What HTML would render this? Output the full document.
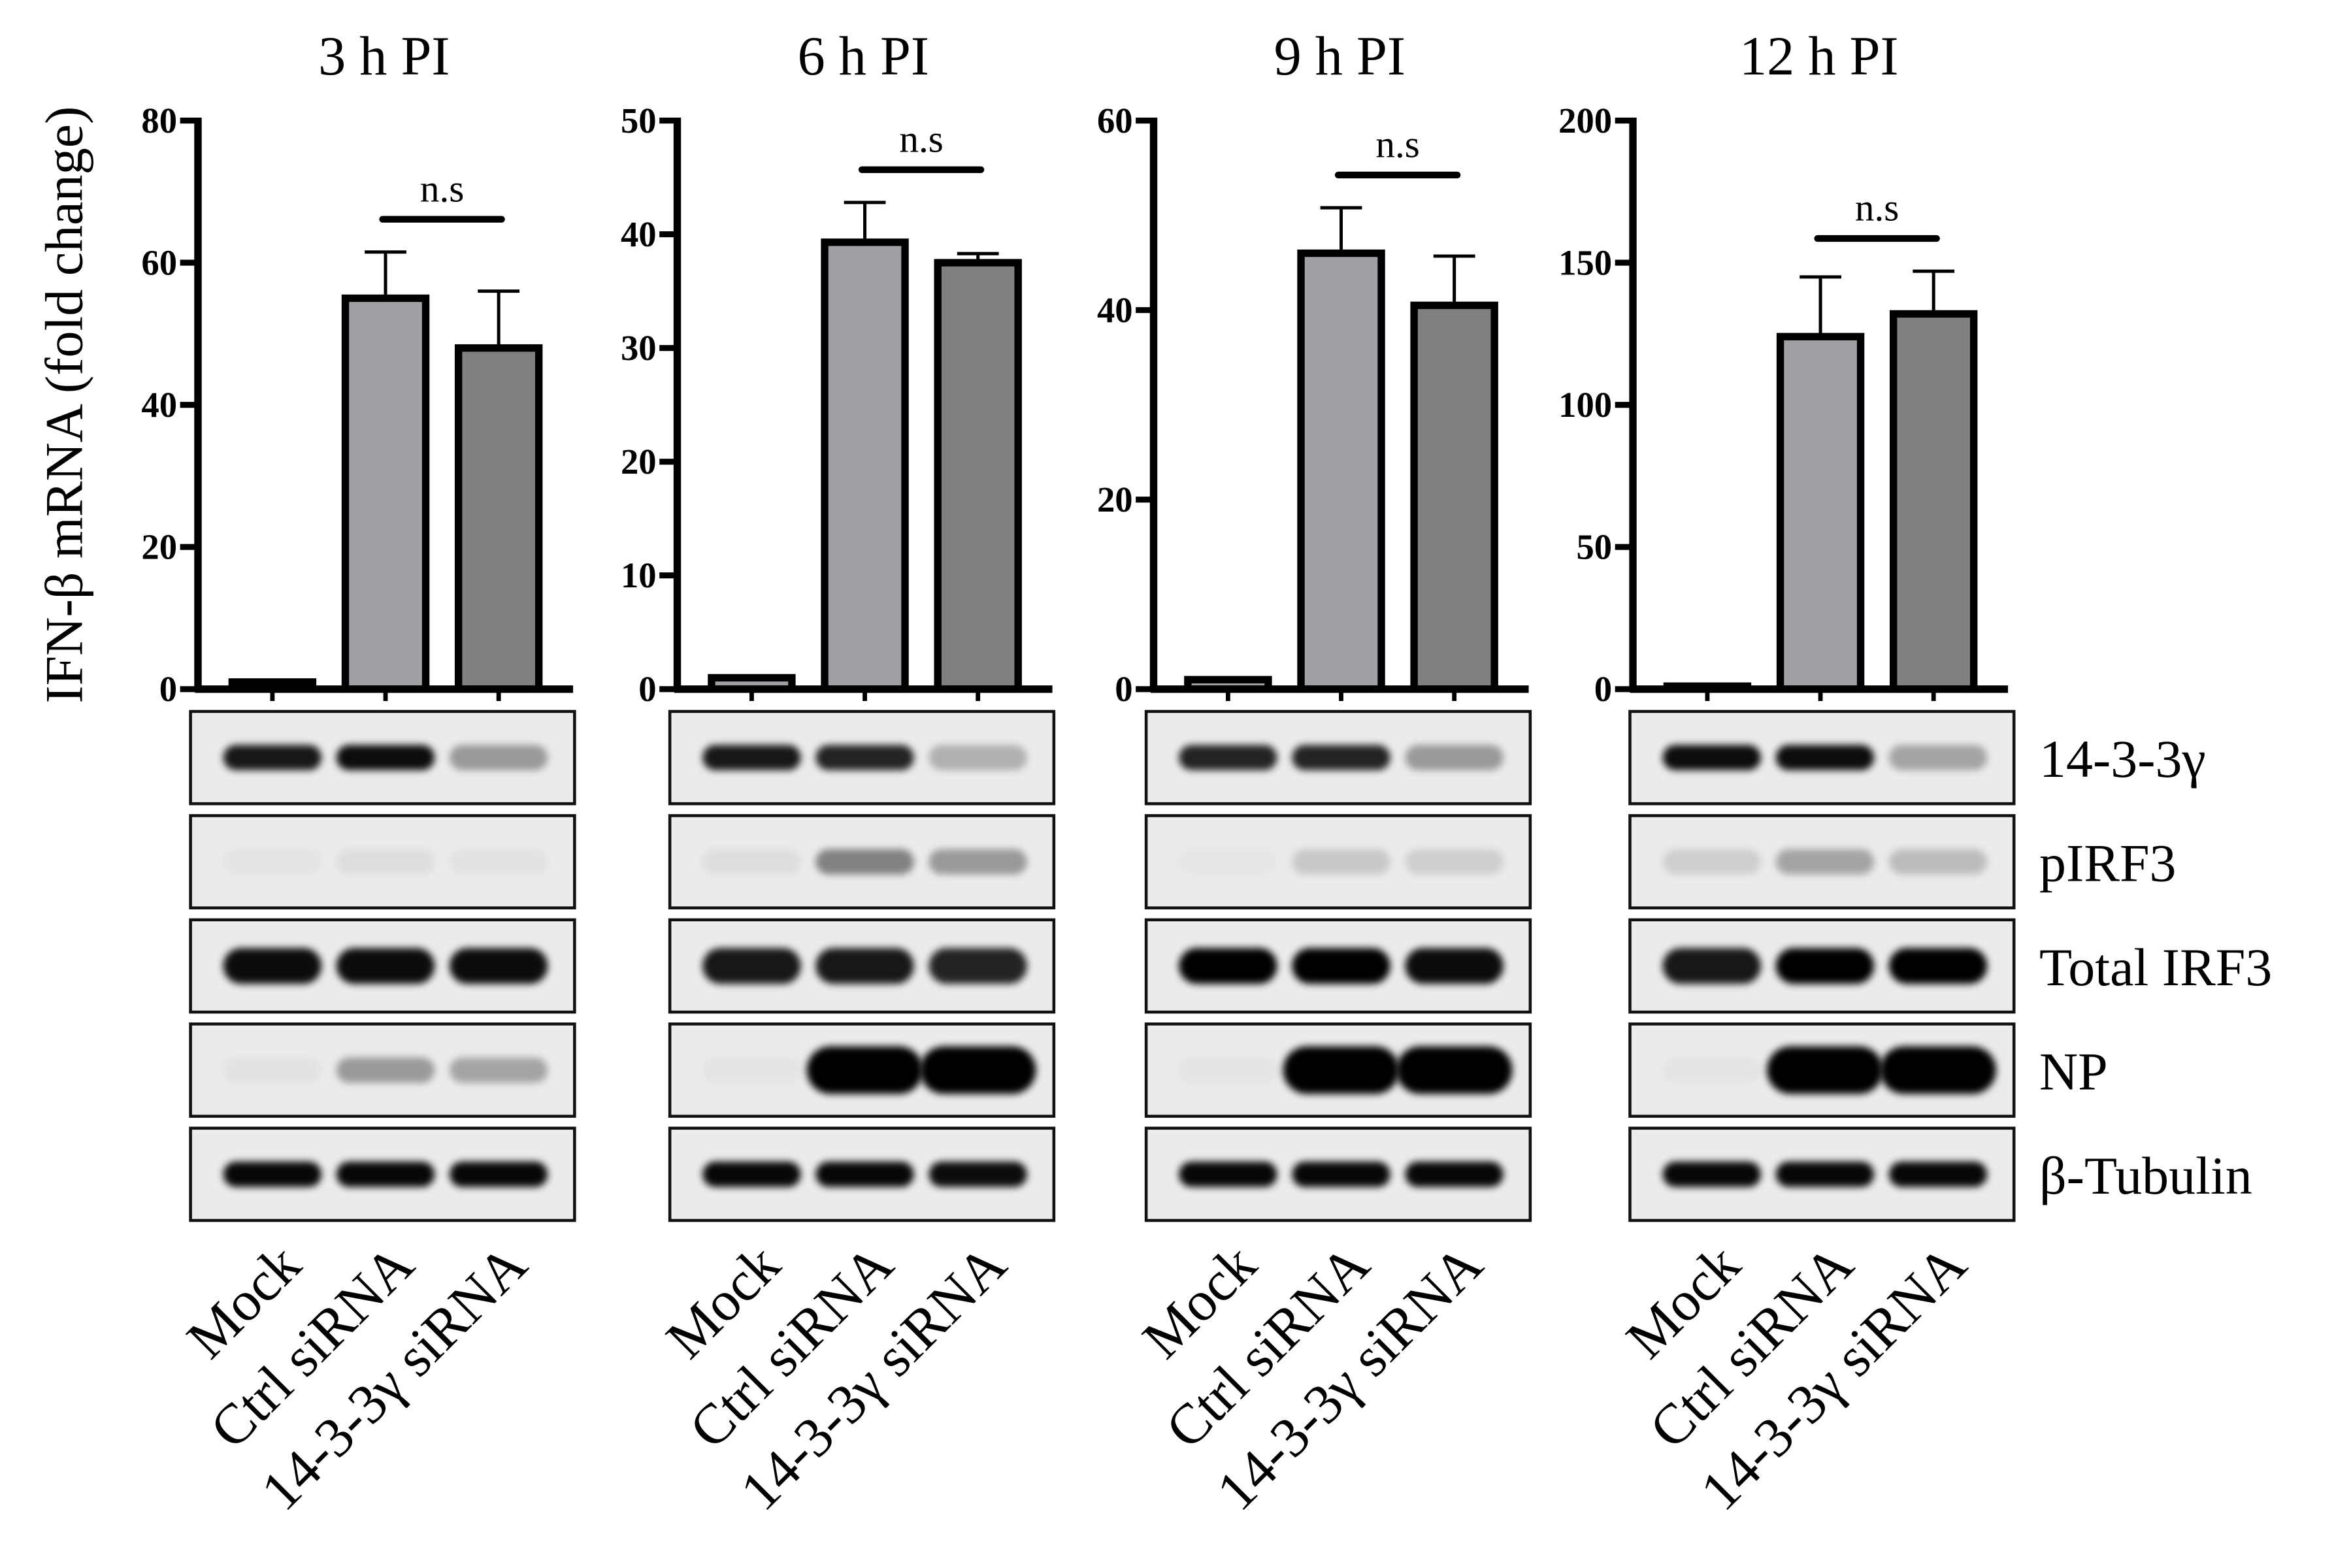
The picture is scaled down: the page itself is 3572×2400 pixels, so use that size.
<!DOCTYPE html>
<html><head><meta charset="utf-8"><style>
html,body{margin:0;padding:0;background:#fff;}
svg{display:block;font-family:"Liberation Serif","DejaVu Serif",serif;}
</style></head><body>
<svg id="fig" width="3572" height="2400" viewBox="0 0 1568 1053.5" xmlns="http://www.w3.org/2000/svg">
<defs>
<filter id="blur" x="-30%" y="-100%" width="160%" height="300%"><feGaussianBlur stdDeviation="2.5"/></filter>
</defs>
<text transform="translate(55,272) rotate(-90)" text-anchor="middle" font-size="36">IFN-β mRNA (fold change)</text>
<g id="root"></g>
</svg>
<script>
const categories = ["Mock","Ctrl siRNA","14-3-3γ siRNA"];
const panelTitles = ["3 h PI","6 h PI","9 h PI","12 h PI"];
const yMax = [80,50,60,200];
const yTickLabels = [[0,20,40,60,80],[0,10,20,30,40,50],[0,20,40,60],[0,50,100,150,200]];
const means3h = [1,55,48];
const means6h = [1,39.3,37.5];
const means9h = [1,46,40.5];
const means12h = [0.5,124,132];
const errs3h = [0.3,6.5,8];
const errs6h = [0.3,3.5,0.8];
const errs9h = [0.3,4.8,5.2];
const errs12h = [0.3,21,15];
const blotLabels = ["14-3-3γ","pIRF3","Total IRF3","NP","β-Tubulin"];
const bands3h = [[0.9,0.95,0.35],[0.03,0.06,0.04],[0.95,0.95,0.95],[0.04,0.35,0.3],[0.97,0.97,0.97]];
const bands6h = [[0.9,0.85,0.25],[0.06,0.45,0.35],[0.9,0.9,0.85],[0.03,1,1],[0.97,0.97,0.95]];
const bands9h = [[0.85,0.85,0.35],[0.02,0.15,0.12],[1,1,0.95],[0.03,1,1],[0.97,0.97,0.97]];
const bands12h = [[0.95,0.95,0.3],[0.12,0.3,0.2],[0.9,1,1],[0.03,1,1],[0.97,0.97,0.97]];

const means=[means3h,means6h,means9h,means12h], errs=[errs3h,errs6h,errs9h,errs12h], bands=[bands3h,bands6h,bands9h,bands12h];
const NS="http://www.w3.org/2000/svg";
const root=document.getElementById('root');
function mk(tag,attrs,parent,text){const e=document.createElementNS(NS,tag);for(const k in attrs)e.setAttribute(k,attrs[k]);if(text!==undefined)e.textContent=text;(parent||root).appendChild(e);return e;}
const axisX=[133,455,775,1097];
const blotX=[128,450,770,1095];
const rowY=[478,548,618,688,758];
const y0=463, yTop=81;
const barW=54, fills=["#a0a0a4","#a0a0a4","#808080"];
for(let p=0;p<4;p++){
  const g=mk('g',{});
  
  
  const ax=axisX[p];
  const yS=v=>y0-(v/yMax[p])*(y0-yTop);
  const xC=i=>ax+50+i*76;
  const t=mk('text',{x:ax+125,y:50,'text-anchor':'middle','font-size':37},g,panelTitles[p]);
  
  
  for(let i=0;i<3;i++){
    const v=means[p][i], e=errs[p][i], cx=xC(i);
    if(i>0){
      const el=mk('path',{d:`M${cx},${yS(v)} V${yS(v+e)} M${cx-14},${yS(v+e)} H${cx+14}`,stroke:'#000','stroke-width':2.2,fill:'none'},g);
      
      
    }
    const h=Math.max(y0-yS(v),2);
    const r=mk('rect',{x:cx-barW/2,y:y0-h,width:barW,height:h,fill:fills[i],stroke:'#000','stroke-width':5},g);
    
    
    const tk=mk('line',{x1:cx,y1:y0,x2:cx,y2:y0+8,stroke:'#000','stroke-width':3},g);
    
    
  }
  const ya=mk('line',{x1:ax,y1:yTop-2,x2:ax,y2:y0+2,stroke:'#000','stroke-width':5},g);
  
  
  const xa=mk('line',{x1:ax-2,y1:y0,x2:ax+252,y2:y0,stroke:'#000','stroke-width':5},g);
  
  
  for(const tv of yTickLabels[p]){
    const ty=yS(tv);
    const l=mk('line',{x1:ax-12,y1:ty,x2:ax,y2:ty,stroke:'#000','stroke-width':4},g);
    
    
    const tl=mk('text',{x:ax-14,y:ty+8,'text-anchor':'end','font-size':24,'font-weight':'bold'},g,String(tv));
    
    
  }
  const top=Math.max(means[p][1]+errs[p][1],means[p][2]+errs[p][2]);
  const sy=yS(top)-22;
  const sl=mk('line',{x1:xC(1)-2,y1:sy,x2:xC(2)+2,y2:sy,stroke:'#000','stroke-width':4.5,'stroke-linecap':'round'},g);
  
  
  const st=mk('text',{x:(xC(1)+xC(2))/2,y:sy-12,'text-anchor':'middle','font-size':26},g,'n.s');
  
  
  const bx=blotX[p];
  for(let r=0;r<5;r++){
    const by=rowY[r];
    const box=mk('rect',{x:bx,y:by,width:258,height:62,fill:'#ebebeb',stroke:'#111','stroke-width':2},g);
    
    
    for(let i=0;i<3;i++){
      const a=bands[p][r][i];
      const cx=bx+55+i*76;
      const isNP=r===3&&a>0.8;
      const bh=isNP?32:(r===2?24:17);
      const bw=isNP?78:66;
      const band=mk('rect',{x:cx-bw/2,y:by+31-bh/2,width:bw,height:bh,rx:bh/2,fill:'#000','fill-opacity':a,filter:'url(#blur)'},g);
      
      
    }
  }
  for(let i=0;i<3;i++){
    const cx=bx+76+i*76;
    const xl=mk('text',{transform:`translate(${cx},852) rotate(-45)`,'text-anchor':'end','font-size':38},g,categories[i]);
    
    
  }
}
for(let r=0;r<5;r++){
  const bl=mk('text',{x:1370,y:rowY[r]+44,'font-size':36},root,blotLabels[r]);
  
  
}
</script>
</body></html>
